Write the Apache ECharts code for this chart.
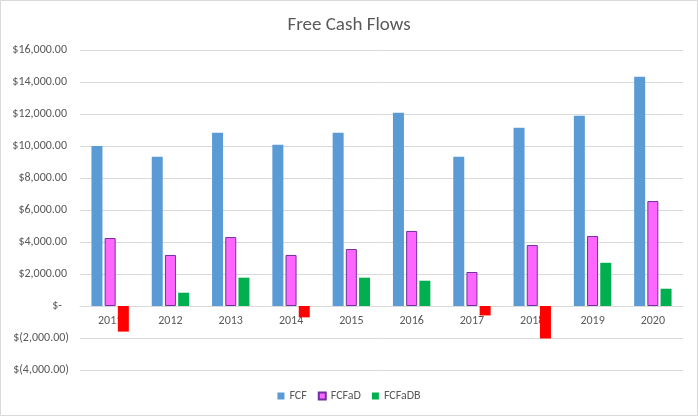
<!DOCTYPE html>
<html>
<head>
<meta charset="utf-8">
<script src="https://cdn.jsdelivr.net/npm/echarts@6/dist/echarts.min.js"></script>
<style>
html,body{margin:0;padding:0;background:#fff;}
#chart{width:698px;height:416px;}
</style>
</head>
<body>
<div id="chart"></div>
<script>
const years = ['2011','2012','2013','2014','2015','2016','2017','2018','2019','2020'];
const fcf = [10000, 9330, 10830, 10080, 10830, 12080, 9330, 11140, 11890, 14330];
const fcfad = [4250, 3190, 4310, 3190, 3560, 4690, 2125, 3810, 4375, 6560];
const fcfadb = [-1600, 830, 1770, -710, 1770, 1580, -590, -2030, 2700, 1080];
const seriesNames = ['FCF', 'FCFaD', 'FCFaDB'];
const yTicks = {min: -4000, max: 16000, step: 2000};

const FONT = "Carlito, 'Liberation Sans Narrow', 'Open Sans', sans-serif";
const TXT = '#595959';

function money(v) {
  const s = Math.abs(v).toLocaleString('en-US', {minimumFractionDigits: 2, maximumFractionDigits: 2});
  if (v === 0) return '{z|$-}';
  if (v < 0) return '{n|$(' + s + ')}';
  return '{p|$' + s + '}';
}
const richBase = {fontFamily: FONT, fontSize: 12, color: TXT};

const gridTop = 50, gridBottom = 46, H = 416;
const plotH = H - gridTop - gridBottom;
// distance from the plot bottom (min) up to the zero line, so the category axis sits on zero
const zeroOffset = -plotH * (0 - yTicks.min) / (yTicks.max - yTicks.min);

const chart = echarts.init(document.getElementById('chart'), null, {renderer: 'canvas'});
chart.setOption({
  animation: false,
  backgroundColor: '#fff',
  title: {
    text: 'Free Cash Flows',
    left: 'center',
    top: 11,
    textStyle: {fontFamily: FONT, fontSize: 19, fontWeight: 'normal', color: TXT}
  },
  legend: {
    bottom: 9,
    left: 'center',
    icon: 'rect',
    itemWidth: 7,
    itemHeight: 7,
    itemGap: 11,
    textStyle: {fontFamily: FONT, fontSize: 12, color: TXT},
    data: seriesNames
  },
  grid: {left: 80, right: 15, top: gridTop, bottom: gridBottom},
  xAxis: {
    type: 'category',
    data: years,
    offset: zeroOffset,
    axisLine: {onZero: false, lineStyle: {color: '#d9d9d9'}},
    axisTick: {show: false},
    axisLabel: {margin: 9, fontFamily: FONT, fontSize: 12, color: TXT}
  },
  yAxis: {
    type: 'value',
    min: yTicks.min,
    max: yTicks.max,
    interval: yTicks.step,
    axisLine: {show: false},
    axisTick: {show: false},
    splitLine: {lineStyle: {color: '#d9d9d9'}},
    axisLabel: {
      margin: 11,
      formatter: money,
      rich: {
        p: Object.assign({padding: [0, 2, 0, 0]}, richBase),
        z: Object.assign({padding: [0, 7, 0, 0]}, richBase),
        n: Object.assign({}, richBase)
      }
    }
  },
  series: [
    {
      name: seriesNames[0], type: 'bar', data: fcf,
      barWidth: 11, barGap: '20%',
      itemStyle: {color: '#5B9BD5'}
    },
    {
      name: seriesNames[1], type: 'bar', data: fcfad,
      barWidth: 11, barGap: '20%',
      itemStyle: {color: '#FF66FF', borderColor: '#7030A0', borderWidth: 1}
    },
    {
      name: seriesNames[2], type: 'bar',
      data: fcfadb.map(v => v < 0 ? {value: v, itemStyle: {color: '#FF0000'}} : v),
      barWidth: 11, barGap: '20%',
      itemStyle: {color: '#00B050'}
    }
  ],
  graphic: [{
    type: 'rect',
    shape: {x: 0.5, y: 0.5, width: 697, height: 415},
    style: {fill: 'none', stroke: '#d9d9d9', lineWidth: 1},
    silent: true,
    z: 100
  }]
});
</script>
</body>
</html>
